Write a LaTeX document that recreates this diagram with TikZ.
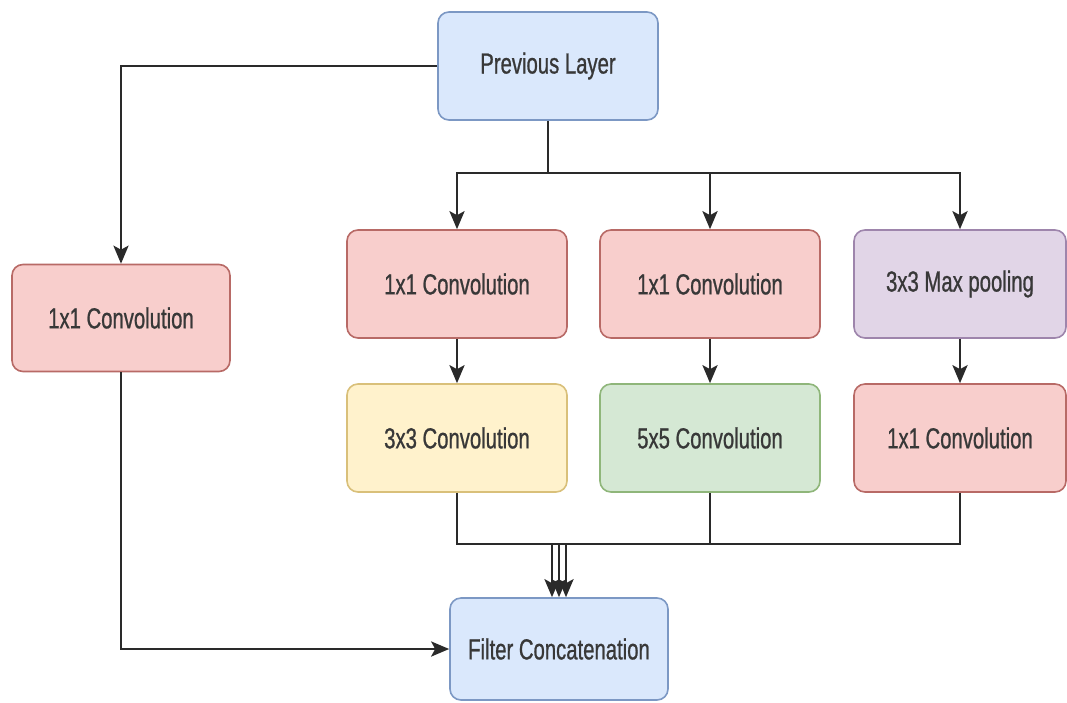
\documentclass[tikz,border=0pt]{standalone}
\usepackage{fontspec}
\setmainfont{Liberation Sans}
\newfontfamily\condfont[FakeStretch=0.7, FakeBold=0.8]{Liberation Sans}
\usetikzlibrary{arrows.meta}

\definecolor{linegray}{HTML}{2A2A2A}
\definecolor{txtgray}{HTML}{383838}
\definecolor{bluefill}{HTML}{DAE8FC}\definecolor{bluedraw}{HTML}{7C98C4}
\definecolor{redfill}{HTML}{F8CECC}\definecolor{reddraw}{HTML}{B86A66}
\definecolor{yelfill}{HTML}{FFF2CC}\definecolor{yeldraw}{HTML}{D9C07A}
\definecolor{grnfill}{HTML}{D5E8D4}\definecolor{grndraw}{HTML}{8FB67A}
\definecolor{purfill}{HTML}{E1D5E7}\definecolor{purdraw}{HTML}{9E85AC}

\begin{document}
\begin{tikzpicture}[x=1pt,y=-1pt,
  box/.style={rectangle, rounded corners=11pt, line width=1.6pt,
    minimum width=220pt, minimum height=108pt, inner sep=0pt,
    text=txtgray, font=\condfont\fontsize{29}{32}\selectfont},
  bluebox/.style={box, fill=bluefill, draw=bluedraw},
  redbox/.style={box, fill=redfill, draw=reddraw},
  yelbox/.style={box, fill=yelfill, draw=yeldraw},
  grnbox/.style={box, fill=grnfill, draw=grndraw},
  purbox/.style={box, fill=purfill, draw=purdraw},
  wire/.style={draw=linegray, line width=2.8pt},
  arr/.style={wire, -{Stealth[length=18pt, width=15pt, inset=4pt]}}]

  \useasboundingbox[fill=white] (0,0) rectangle (1067,702);

  % input and output blocks
  \node[bluebox] (prev) at (548,66) {Previous Layer};
  \node[bluebox, minimum width=218pt, minimum height=102pt] (fc) at (559,649) {Filter Concatenation};

  % left branch
  \node[redbox, minimum width=218pt, minimum height=107pt] (c1L) at (121,318) {1x1 Convolution};

  % first row of the three right branches
  \node[redbox] (r1a) at (457,284) {1x1 Convolution};
  \node[redbox] (r1b) at (710,284) {1x1 Convolution};
  \node[purbox, minimum width=212pt] (r1c) at (960,284) {3x3 Max pooling};

  % second row
  \node[yelbox] (r2a) at (457,438) {3x3 Convolution};
  \node[grnbox] (r2b) at (710,438) {5x5 Convolution};
  \node[redbox, minimum width=212pt] (r2c) at (960,438) {1x1 Convolution};

  % fan-out bus under the input
  \coordinate (busT) at (548,173);
  \draw[wire] (prev.south) -- (busT);
  \draw[arr] (busT) -| (r1a.north);
  \draw[arr] (busT) -| (r1b.north);
  \draw[arr] (busT) -| (r1c.north);
  \draw[arr] (prev.west) -| (c1L.north);

  % within each branch
  \draw[arr] (r1a.south) -- (r2a.north);
  \draw[arr] (r1b.south) -- (r2b.north);
  \draw[arr] (r1c.south) -- (r2c.north);

  % fan-in bus above the concatenation
  \coordinate (busB) at (559,544);
  \draw[wire] (r2a.south) |- (busB);
  \draw[wire] (r2b.south) |- (busB);
  \draw[wire] (r2c.south) |- (busB);
  \coordinate (ja) at (552,544);
  \coordinate (jb) at (559,544);
  \coordinate (jc) at (566,544);
  \draw[arr] (ja) -- (ja |- fc.north);
  \draw[arr] (jb) -- (jb |- fc.north);
  \draw[arr] (jc) -- (jc |- fc.north);

  % left branch into the concatenation
  \draw[arr] (c1L.south) |- (fc.west);
\end{tikzpicture}
\end{document}
